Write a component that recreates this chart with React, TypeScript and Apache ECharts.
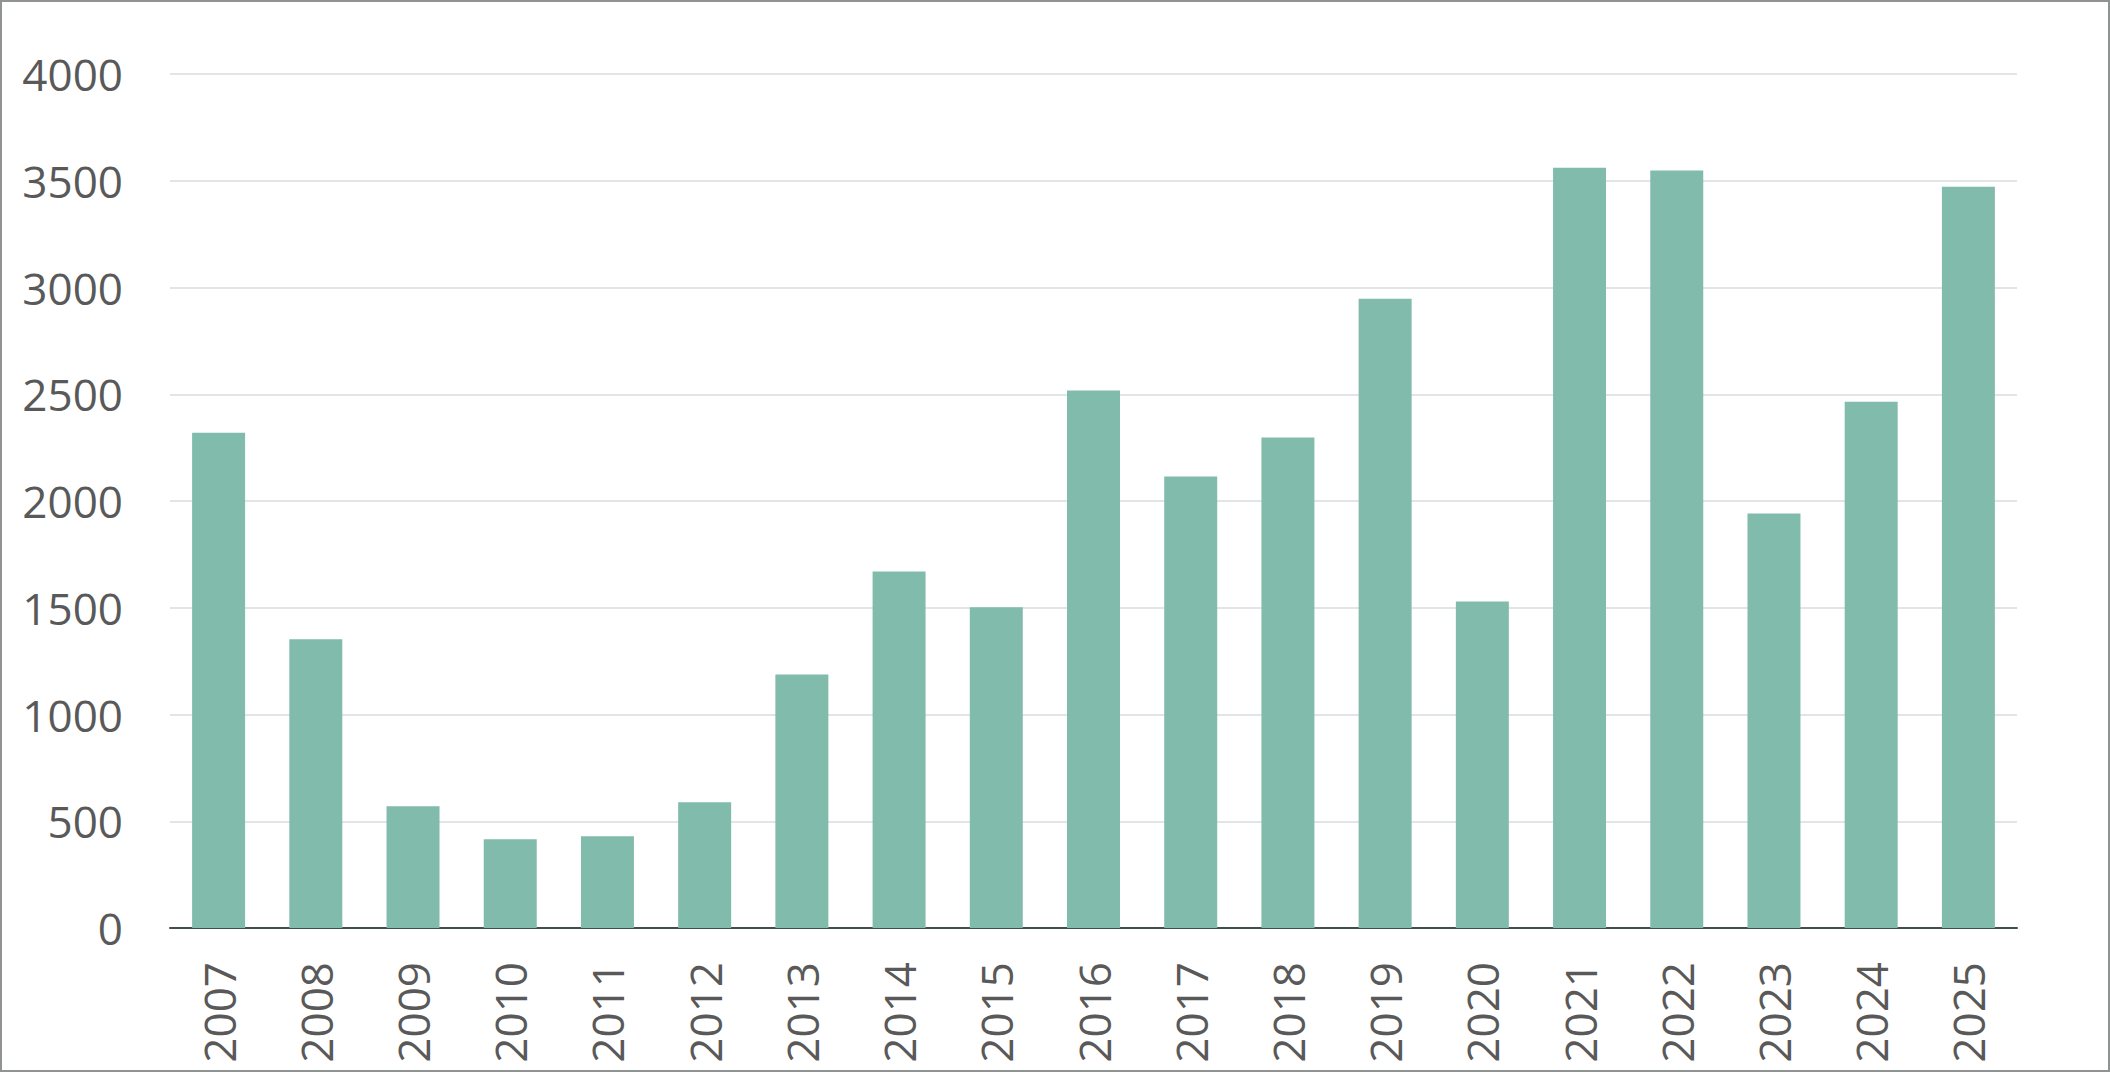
import React, { useEffect, useRef } from "react";
import * as echarts from "echarts";

const categories = ["2007","2008","2009","2010","2011","2012","2013","2014","2015","2016","2017","2018","2019","2020","2021","2022","2023","2024","2025"];
const values = [2320,1352,570,416,430,589,1187,1670,1502,2518,2115,2297,2947,1529,3561,3548,1941,2465,3472];
const yTicks = [0,500,1000,1500,2000,2500,3000,3500,4000];

export default function App() {
  const ref = useRef<HTMLDivElement>(null);
  useEffect(() => {
    if (!ref.current) return;
    const chart = echarts.init(ref.current, undefined, { renderer: "svg" });
    chart.setOption({
      animation: false,
      backgroundColor: "#ffffff",
      grid: { left: 168, right: 91, top: 72, bottom: 142, containLabel: false },
      xAxis: {
        type: "category",
        data: categories,
        axisLine: { show: true, lineStyle: { color: "#404f4c", width: 2 } },
        axisTick: { show: false },
        axisLabel: {
          rotate: 90,
          margin: 34,
          fontSize: 44,
          fontFamily: "Open Sans",
          color: "#595959",
          interval: 0,
        },
        splitLine: { show: false },
      },
      yAxis: {
        type: "value",
        min: yTicks[0],
        max: yTicks[yTicks.length - 1],
        interval: 500,
        axisLine: { show: false },
        axisTick: { show: false },
        axisLabel: {
          margin: 47,
          fontSize: 44,
          fontFamily: "Open Sans",
          color: "#595959",
          formatter: (v: number) => String(v),
        },
        splitLine: { show: true, lineStyle: { color: "#d9dddc", width: 1.5 } },
      },
      series: [
        {
          type: "bar",
          data: values,
          barWidth: "54.5%",
          itemStyle: { color: "#80bbab" },
        },
      ],
    });
    return () => chart.dispose();
  }, []);
  return (
    <div
      style={{
        position: "fixed",
        left: 0,
        top: 0,
        width: 2110,
        height: 1072,
        boxSizing: "border-box",
        border: "2px solid #8f9391",
        background: "#fff",
      }}
    >
      <div ref={ref} style={{ width: 2106, height: 1068 }} />
    </div>
  );
}
